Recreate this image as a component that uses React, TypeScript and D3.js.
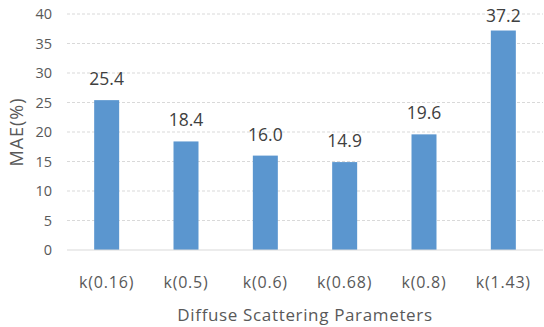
import React from "react";
import * as d3 from "d3";

const categories = ["k(0.16)", "k(0.5)", "k(0.6)", "k(0.68)", "k(0.8)", "k(1.43)"];
const maeValues = [25.4, 18.4, 16.0, 14.9, 19.6, 37.2];
const yTicks = [0, 5, 10, 15, 20, 25, 30, 35, 40];

const W = 544;
const H = 327;
const margin = { left: 67, right: 1, top: 14, bottom: 77 };
const font = "'Open Sans', 'Noto Sans', sans-serif";
const textColor = "#595959";

export default function App() {
  const x = d3
    .scaleBand<string>()
    .domain(categories)
    .range([margin.left, W - margin.right])
    .paddingInner(0.685)
    .paddingOuter(0.3425);
  const y = d3.scaleLinear().domain([0, 40]).range([H - margin.bottom, margin.top]);

  return (
    <svg
      width={W}
      height={H}
      style={{ position: "absolute", left: 0, top: 0, background: "#fff" }}
      fontFamily={font}
    >
      {yTicks.map((t) => (
        <g key={t}>
          {t > 0 && (
            <line
              x1={margin.left}
              x2={W - margin.right}
              y1={y(t)}
              y2={y(t)}
              stroke="#d9d9d9"
              strokeDasharray="3,2"
            />
          )}
          <text
            x={52}
            y={y(t)}
            dy="0.35em"
            textAnchor="end"
            fontSize={14.5}
            fill={textColor}
          >
            {t}
          </text>
        </g>
      ))}
      {categories.map((c, i) => (
        <g key={c}>
          <rect
            x={x(c)}
            y={y(maeValues[i])}
            width={x.bandwidth()}
            height={y(0) - y(maeValues[i])}
            fill="#5b96cf"
          />
          <text
            x={(x(c) as number) + x.bandwidth() / 2}
            y={Math.max(y(maeValues[i]) - 15, 22)}
            textAnchor="middle"
            fontSize={17.5}
            fill="#404040"
          >
            {maeValues[i].toFixed(1)}
          </text>
          <text
            x={(x(c) as number) + x.bandwidth() / 2}
            y={288}
            textAnchor="middle"
            fontSize={16}
            letterSpacing={0.8}
            fill={textColor}
          >
            {c}
          </text>
        </g>
      ))}
      <line
        x1={margin.left}
        x2={W - margin.right}
        y1={y(0)}
        y2={y(0)}
        stroke="#d9d9d9"
      />
      <text
        transform={`translate(17,${(y(0) + y(40)) / 2}) rotate(-90)`}
        dy="0.35em"
        textAnchor="middle"
        fontSize={18}
        letterSpacing={1}
        fill={textColor}
      >
        MAE(%)
      </text>
      <text
        x={(margin.left + W - margin.right) / 2}
        y={321}
        textAnchor="middle"
        fontSize={17}
        letterSpacing={0.65}
        fill={textColor}
      >
        Diffuse Scattering Parameters
      </text>
    </svg>
  );
}
